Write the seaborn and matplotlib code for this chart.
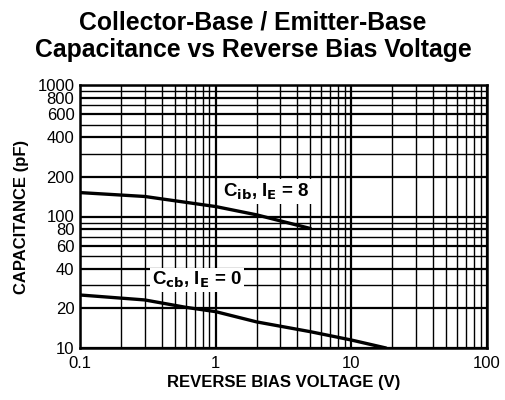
import pandas as pd
import matplotlib.pyplot as plt
import seaborn as sns
import numpy as np
from matplotlib.ticker import FixedLocator, NullFormatter, LogLocator

# data
cib_v = [0.1, 0.3, 1.0, 2.0, 5.0]
cib_pf = [152, 142, 119, 103, 81]
ccb_v = [0.1, 0.3, 0.6, 1.0, 2.0, 5.0, 10.0, 18.0]
ccb_pf = [25.3, 23.2, 20.4, 18.9, 15.8, 13.3, 11.5, 10.0]
y_ticks = [10, 20, 40, 60, 80, 100, 200, 400, 600, 800, 1000]
x_ticks = [0.1, 1, 10, 100]

sns.set_theme(style="white", rc={"text.color": "black", "axes.labelcolor": "black",
                                 "xtick.color": "black", "ytick.color": "black"})
plt.rcParams["font.family"] = ["Liberation Sans", "DejaVu Sans"]

fig = plt.figure(figsize=(5.06, 4.0), dpi=100)
ax = fig.add_axes([80 / 506, 1 - 348 / 400, 407 / 506, 263 / 400])

df_ib = pd.DataFrame({"v": cib_v, "c": cib_pf})
df_cb = pd.DataFrame({"v": ccb_v, "c": ccb_pf})
sns.lineplot(data=df_ib, x="v", y="c", ax=ax, color="black", lw=2.4, zorder=3)
sns.lineplot(data=df_cb, x="v", y="c", ax=ax, color="black", lw=2.4, zorder=3)

ax.set_xscale("log")
ax.set_yscale("log")
ax.set_xlim(0.1, 100)
ax.set_ylim(10, 1000)

ax.xaxis.set_major_locator(FixedLocator(x_ticks))
ax.set_xticklabels([str(t) for t in x_ticks])
ax.xaxis.set_minor_locator(LogLocator(base=10, subs=np.arange(2, 10)))
ax.xaxis.set_minor_formatter(NullFormatter())
ax.yaxis.set_major_locator(FixedLocator(y_ticks))
ax.set_yticklabels([str(t) for t in y_ticks])
ax.yaxis.set_minor_locator(LogLocator(base=10, subs=np.arange(2, 10)))
ax.yaxis.set_minor_formatter(NullFormatter())

ax.grid(which="minor", color="black", lw=1.0)
ax.grid(which="major", color="black", lw=1.6)
ax.tick_params(which="both", length=0, labelsize=12, colors="black")
ax.tick_params(axis="x", pad=6)
ax.tick_params(axis="y", pad=4)
for s in ax.spines.values():
    s.set_color("black")
    s.set_linewidth(1.8)

ax.set_xlabel("REVERSE BIAS VOLTAGE (V)", fontsize=12, fontweight="bold", labelpad=3,
              color="black")
ax.set_ylabel("CAPACITANCE (pF)", fontsize=12, fontweight="bold", labelpad=6, color="black")

box = dict(facecolor="white", edgecolor="none", pad=1.5)
ax.text(1.13, 155, r"C$_{\mathbf{ib}}$, I$_{\mathbf{E}}$ = 8", fontsize=13.5, fontweight="bold",
        va="center", bbox=box, zorder=4, color="black")
ax.text(0.34, 33, r"C$_{\mathbf{cb}}$, I$_{\mathbf{E}}$ = 0", fontsize=13.5, fontweight="bold",
        va="center", bbox=box, zorder=4, color="black")

fig.text(0.5, 1 - 22 / 400, "Collector-Base / Emitter-Base", ha="center", va="center",
         fontsize=17.8, fontweight="bold", color="black")
fig.text(0.5, 1 - 50 / 400, "Capacitance vs Reverse Bias Voltage", ha="center", va="center",
         fontsize=17.8, fontweight="bold", color="black")

fig.savefig("out.png", dpi=100)
